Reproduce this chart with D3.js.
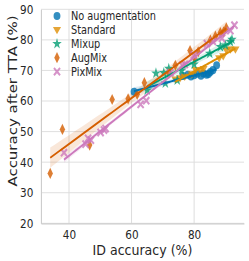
<!DOCTYPE html>
<html>
<head>
<meta charset="utf-8">
<script src="https://cdn.jsdelivr.net/npm/d3@7"></script>
<style>
  body { margin: 0; background: #fff; }
  text { font-family: "DejaVu Sans", sans-serif; fill: #262626; }
</style>
</head>
<body>
<div id="chart"></div>
<script>
// chart size (the figure looks squeezed sideways, so draw wide and scale x)
const width = 249;
const height = 261;
const sx = 0.85;
const plot = {left: 41, right: 244, top: 9.3, bottom: 223.3};

// data
const names = ["No augmentation", "Standard", "Mixup", "AugMix", "PixMix"];
const colors = ["#0173b2", "#de8f05", "#029e73", "#d55e00", "#cc78bc"];
const shapes = ["circle", "triangle", "star", "diamond", "x"];

const noAugX = [60.8, 76.5, 78.0, 79.0, 80.0, 81.0, 82.2, 83.0, 84.0, 84.6, 85.2, 86.0, 87.2];
const noAugY = [63.0, 68.2, 68.6, 68.0, 68.4, 68.9, 68.3, 69.0, 68.6, 68.8, 69.5, 70.1, 71.7];

const standardX = [74.0, 75.5, 77.0, 79.3, 80.5, 82.0, 83.0, 88.0, 89.3, 90.3, 91.6, 93.2];
const standardY = [67.1, 67.5, 68.0, 68.8, 70.2, 69.9, 70.5, 74.0, 74.7, 76.6, 76.9, 76.9];

const mixupX = [65.0, 67.8, 70.3, 70.8, 71.9, 74.6, 76.0, 80.0, 85.0, 88.4, 90.0, 91.6, 92.1];
const mixupY = [63.5, 69.1, 69.2, 65.8, 70.6, 66.8, 70.0, 72.0, 75.5, 77.7, 78.2, 79.4, 80.1];

const augmixX = [34.0, 37.9, 46.6, 53.8, 58.9, 61.8, 64.1, 71.9, 74.0, 78.7, 80.2, 81.3, 85.2, 86.8, 88.4, 89.4, 90.3];
const augmixY = [36.3, 50.7, 45.6, 60.5, 60.7, 62.2, 66.0, 69.0, 71.7, 76.5, 73.9, 76.1, 79.9, 81.2, 82.4, 82.6, 83.9];

const pixmixX = [38.4, 45.3, 46.1, 47.0, 50.1, 51.2, 51.7, 62.9, 64.7, 72.4, 76.2, 77.0, 79.9, 84.1, 86.0, 88.9, 91.6, 92.9];
const pixmixY = [43.1, 45.9, 47.8, 47.2, 49.7, 50.5, 51.0, 58.9, 60.1, 69.2, 71.7, 72.0, 75.0, 78.8, 79.5, 80.5, 83.0, 84.8];

const xTicks = [40, 60, 80];
const yTicks = [20, 30, 40, 50, 60, 70, 80, 90];

const seriesX = [noAugX, standardX, mixupX, augmixX, pixmixX];
const seriesY = [noAugY, standardY, mixupY, augmixY, pixmixY];

const svg = d3.select("#chart").append("svg")
  .attr("width", width)
  .attr("height", height);

const root = svg.append("g").attr("transform", `scale(${sx},1)`);

const x = d3.scaleLinear().domain([31.05, 95.95]).range([plot.left / sx, plot.right / sx]);
const y = d3.scaleLinear().domain([20, 90]).range([plot.bottom, plot.top]);

// grid
root.append("g").selectAll("line").data(yTicks).join("line")
  .attr("x1", plot.left / sx).attr("x2", plot.right / sx)
  .attr("y1", d => y(d)).attr("y2", d => y(d))
  .attr("stroke", "#dcdcdc").attr("stroke-width", 1);
root.append("g").selectAll("line").data(xTicks).join("line")
  .attr("x1", d => x(d)).attr("x2", d => x(d))
  .attr("y1", plot.top).attr("y2", plot.bottom)
  .attr("stroke", "#dcdcdc").attr("stroke-width", 1.15);

// axes (spines only left and bottom)
const xAxis = root.append("g")
  .attr("transform", `translate(0,${plot.bottom})`)
  .call(d3.axisBottom(x).tickValues(xTicks).tickSize(0).tickPadding(6.5));
const yAxis = root.append("g")
  .attr("transform", `translate(${plot.left / sx},0)`)
  .call(d3.axisLeft(y).tickValues(yTicks).tickSize(0).tickPadding(9));
[xAxis, yAxis].forEach(a => {
  a.select(".domain").attr("stroke", "#cccccc").attr("stroke-width", 1.3);
  a.selectAll("text").attr("font-size", 12.3).attr("fill", "#262626")
    .attr("font-family", "DejaVu Sans, sans-serif");
});

root.append("text")
  .attr("x", (plot.left + plot.right) / 2 / sx)
  .attr("y", 255.5)
  .attr("text-anchor", "middle")
  .attr("font-size", 14.8)
  .text("ID accuracy (%)");
root.append("text")
  .attr("transform", `translate(${16.5 / sx},101) rotate(-90)`)
  .attr("text-anchor", "middle")
  .attr("font-size", 15)
  .text("Accuracy after TTA (%)");

// marker paths
function markerPath(shape, s) {
  if (shape === "circle") return d3.symbol(d3.symbolCircle, s * s * 0.8)();
  if (shape === "star") return d3.symbol(d3.symbolStar, s * s * 0.6)();
  if (shape === "triangle") {
    const r = s * 0.6;
    return `M${-r},${-r * 0.6}L${r},${-r * 0.6}L0,${r * 0.9}Z`;
  }
  if (shape === "diamond") {
    const w = s * 0.4, h = s * 0.7;
    return `M0,${-h}L${w},0L0,${h}L${-w},0Z`;
  }
  // filled X
  const a = s * 0.55, b = s * 0.2;
  return `M${-a + b},${-a}L0,${-b}L${a - b},${-a}L${a},${-a + b}L${b},0L${a},${a - b}` +
         `L${a - b},${a}L0,${b}L${-a + b},${a}L${-a},${a - b}L${-b},0L${-a},${-a + b}Z`;
}

// simple least squares + 95% band of the mean
function fit(xs, ys) {
  const n = xs.length;
  const mx = d3.mean(xs), my = d3.mean(ys);
  let sxx = 0, sxy = 0;
  xs.forEach((v, i) => { sxx += (v - mx) ** 2; sxy += (v - mx) * (ys[i] - my); });
  const b = sxy / sxx, a = my - b * mx;
  let sse = 0;
  xs.forEach((v, i) => { sse += (ys[i] - a - b * v) ** 2; });
  const s = Math.sqrt(sse / (n - 2));
  const t = 2.1;
  const lo = d3.min(xs), hi = d3.max(xs);
  const pts = d3.range(0, 41).map(k => {
    const xv = lo + (hi - lo) * k / 40;
    const yv = a + b * xv;
    const e = t * s * Math.sqrt(1 / n + (xv - mx) ** 2 / sxx);
    return {x: xv, y: yv, y0: yv - e, y1: yv + e};
  });
  return pts;
}

const fits = names.map((n, i) => fit(seriesX[i], seriesY[i]));

// bands
const area = d3.area().x(d => x(d.x)).y0(d => y(d.y0)).y1(d => y(d.y1));
fits.forEach((f, i) => {
  root.append("path").attr("d", area(f))
    .attr("fill", colors[i]).attr("fill-opacity", 0.15);
});

// points
names.forEach((n, i) => {
  root.append("g").selectAll("path")
    .data(seriesX[i].map((v, k) => [v, seriesY[i][k]]))
    .join("path")
    .attr("transform", d => `translate(${x(d[0])},${y(d[1])})`)
    .attr("d", markerPath(shapes[i], 8))
    .attr("fill", colors[i])
    .attr("fill-opacity", 0.8);
});

// regression lines
const line = d3.line().x(d => x(d.x)).y(d => y(d.y));
fits.forEach((f, i) => {
  root.append("path").attr("d", line(f))
    .attr("fill", "none").attr("stroke", colors[i]).attr("stroke-width", 2);
});

// legend
const legend = root.append("g");
names.forEach((n, i) => {
  const ly = 16 + i * 13.9;
  legend.append("path")
    .attr("transform", `translate(${57 / sx},${ly})`)
    .attr("d", markerPath(shapes[i], 8))
    .attr("fill", colors[i]).attr("fill-opacity", 0.8);
  legend.append("text")
    .attr("x", 71 / sx).attr("y", ly + 4)
    .attr("font-size", 11.5)
    .text(n);
});
</script>
</body>
</html>
